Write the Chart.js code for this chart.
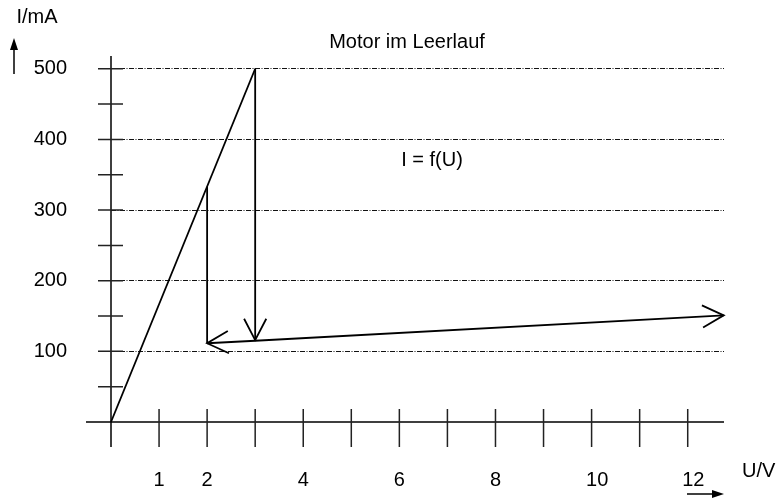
<!DOCTYPE html>
<html>

<head>
    <meta charset="UTF-8">
    <title>Motor im Leerlauf - I = f(U)</title>
    <script src="https://cdn.jsdelivr.net/npm/chart.js@4.4.0/dist/chart.umd.min.js"></script>
    <style>
        html, body { margin: 0; padding: 0; background: #fff; }
    </style>
</head>

<body>
    <canvas id="myChart" width="778" height="503"></canvas>
    <script type="text/javascript">
        // Kennlinie des Motors im Leerlauf, U in V, I in mA
        var riseU = [0, 3];
        var riseI = [0, 500];
        var jumpHighU = [3, 3];
        var jumpHighI = [500, 116];
        var jumpLowU = [2, 2];
        var jumpLowI = [333, 111.5];
        var downU = [3, 2];
        var downI = [115, 111.5];
        var upU = [3, 12.75];
        var upI = [115, 151];

        // Achsen
        var xTicks = [1, 2, 3, 4, 5, 6, 7, 8, 9, 10, 11, 12];
        var xTickLabels = ["1", "2", "", "4", "", "6", "", "8", "", "10", "", "12"];
        var yTicks = [50, 100, 150, 200, 250, 300, 350, 400, 450, 500];
        var yTickLabels = ["", "100", "", "200", "", "300", "", "400", "", "500"];

        var FONT = "'Liberation Sans', Arial, sans-serif";

        function points(us, is) {
            var out = [];
            for (var i = 0; i < us.length; i++) out.push({ x: us[i], y: is[i] });
            return out;
        }
        function labelFor(values, labels, v) {
            var i = values.indexOf(v);
            return i < 0 ? "" : labels[i];
        }

        function openHead(ctx, fx, fy, tx, ty) {
            var ang = Math.atan2(ty - fy, tx - fx);
            var len = 24, spread = 0.48;
            ctx.beginPath();
            ctx.moveTo(tx - len * Math.cos(ang - spread), ty - len * Math.sin(ang - spread));
            ctx.lineTo(tx, ty);
            ctx.lineTo(tx - len * Math.cos(ang + spread), ty - len * Math.sin(ang + spread));
            ctx.stroke();
        }
        function filledArrow(ctx, fx, fy, tx, ty) {
            var ang = Math.atan2(ty - fy, tx - fx);
            var hl = 12, hw = 4;
            var bx = tx - hl * Math.cos(ang), by = ty - hl * Math.sin(ang);
            ctx.beginPath();
            ctx.moveTo(fx, fy);
            ctx.lineTo(bx, by);
            ctx.stroke();
            ctx.beginPath();
            ctx.moveTo(tx, ty);
            ctx.lineTo(bx + hw * Math.sin(ang), by - hw * Math.cos(ang));
            ctx.lineTo(bx - hw * Math.sin(ang), by + hw * Math.cos(ang));
            ctx.closePath();
            ctx.fill();
        }

        // Achsenkreuz mit Teilstrichen
        var axesPlugin = {
            id: "axes",
            beforeDatasetsDraw: function (chart) {
                var ctx = chart.ctx, xs = chart.scales.x, ys = chart.scales.y;
                var x0 = xs.getPixelForValue(0), y0 = ys.getPixelForValue(0);
                ctx.save();
                ctx.strokeStyle = "#000";
                ctx.lineWidth = 1.5;
                ctx.beginPath();
                ctx.moveTo(x0 - 25, y0);
                ctx.lineTo(chart.chartArea.right, y0);
                ctx.moveTo(x0, chart.chartArea.top);
                ctx.lineTo(x0, y0 + 25);
                ctx.stroke();
                ctx.strokeStyle = "#222";
                ctx.beginPath();
                xTicks.forEach(function (v) {
                    var px = xs.getPixelForValue(v);
                    ctx.moveTo(px, y0 - 13);
                    ctx.lineTo(px, y0 + 25);
                });
                yTicks.forEach(function (v) {
                    var py = ys.getPixelForValue(v);
                    ctx.moveTo(x0 - 13, py);
                    ctx.lineTo(x0 + 12, py);
                });
                ctx.stroke();
                ctx.restore();
            },
            afterDatasetsDraw: function (chart) {
                var ctx = chart.ctx;
                ctx.save();
                ctx.strokeStyle = "#000";
                ctx.lineWidth = 1.8;
                chart.data.datasets.forEach(function (ds, i) {
                    var pts = chart.getDatasetMeta(i).data;
                    var n = pts.length;
                    if (ds.arrowEnd) openHead(ctx, pts[n - 2].x, pts[n - 2].y, pts[n - 1].x, pts[n - 1].y);
                });
                ctx.restore();
            },
            afterDraw: function (chart) {
                var ctx = chart.ctx;
                ctx.save();
                ctx.fillStyle = "#000";
                ctx.strokeStyle = "#000";
                ctx.font = "20px " + FONT;
                ctx.textBaseline = "alphabetic";
                ctx.textAlign = "center";
                ctx.fillText("Motor im Leerlauf", 407, 48);
                ctx.fillText("I = f(U)", 432, 166);
                ctx.fillText("I/mA", 37, 23);
                ctx.textAlign = "left";
                ctx.fillText("U/V", 742, 477);
                ctx.lineWidth = 1.5;
                filledArrow(ctx, 14, 74, 14, 38);
                filledArrow(ctx, 687, 494, 724, 494);
                ctx.restore();
            }
        };

        new Chart("myChart", {
            type: "line",
            data: {
                datasets: [
                    { data: points(riseU, riseI) },
                    { data: points(jumpHighU, jumpHighI), arrowEnd: true },
                    { data: points(jumpLowU, jumpLowI) },
                    { data: points(downU, downI), arrowEnd: true },
                    { data: points(upU, upI), arrowEnd: true }
                ]
            },
            options: {
                responsive: false,
                animation: false,
                layout: { padding: { top: 49, right: 54, left: 0, bottom: 0 } },
                elements: {
                    point: { radius: 0, hoverRadius: 0 },
                    line: { borderColor: "#000", borderWidth: 1.8, tension: 0, fill: false }
                },
                datasets: { line: { clip: false } },
                plugins: { legend: { display: false }, tooltip: { enabled: false } },
                scales: {
                    x: {
                        type: "linear",
                        min: 0,
                        max: 12.755,
                        afterBuildTicks: function (s) {
                            s.ticks = xTicks.map(function (v) { return { value: v }; });
                        },
                        afterFit: function (s) { s.height = 81; },
                        grid: { display: false },
                        border: { display: false },
                        ticks: {
                            autoSkip: false,
                            maxRotation: 0,
                            align: "start",
                            labelOffset: -5.5,
                            padding: 38,
                            color: "#000",
                            font: { family: FONT, size: 20 },
                            callback: function (v) { return labelFor(xTicks, xTickLabels, v); }
                        }
                    },
                    y: {
                        min: 0,
                        max: 518.06,
                        afterBuildTicks: function (s) {
                            s.ticks = yTicks.map(function (v) { return { value: v }; });
                        },
                        afterFit: function (s) { s.width = 111; },
                        grid: {
                            drawTicks: false,
                            lineWidth: 1,
                            color: function (c) {
                                return c.tick && labelFor(yTicks, yTickLabels, c.tick.value) ? "#111" : "rgba(0,0,0,0)";
                            }
                        },
                        border: { display: false, dash: [5, 1.5, 1, 1.5] },
                        ticks: {
                            autoSkip: false,
                            padding: 44,
                            color: "#000",
                            font: { family: FONT, size: 20 },
                            callback: function (v) { return labelFor(yTicks, yTickLabels, v); }
                        }
                    }
                }
            },
            plugins: [axesPlugin]
        });
    </script>
</body>

</html>
